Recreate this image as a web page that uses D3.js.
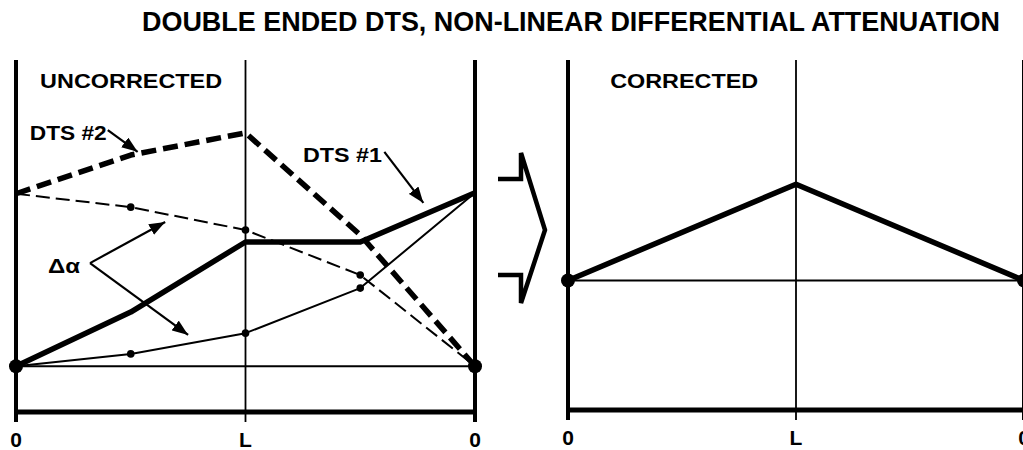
<!DOCTYPE html>
<html>
<head>
<meta charset="utf-8">
<script src="https://cdn.jsdelivr.net/npm/d3@7"></script>
<style>
  body { margin: 0; background: #fff; }
  text { font-family: Arial, "Liberation Sans", sans-serif; font-weight: bold; fill: #000; }
</style>
</head>
<body>
<div id="chart"></div>
<script>
// positions along the fibre, 0 .. L .. 0 (quarter steps)
var positions = [0, 1, 2, 3, 4];
var tickPos = [0, 2, 4];
var tickLabels = ["0", "L", "0"];

// uncorrected traces (left panel)
var dts2 = [62, 73, 79.3, 50.3, 13];
var dtsAlpha2 = [62, 58.2, 51.7, 38.9, 13];
var dts1 = [13, 28.4, 48.3, 48.3, 62.3];
var dtsAlpha1 = [13, 16.5, 22.4, 35.2, 62.3];
var baseLeft = 13;

// corrected trace (right panel)
var correctedPos = [0, 2, 4];
var corrected = [37, 64.5, 37];
var baseRight = 37;

var width = 1023, height = 450;

var svg = d3.select("#chart").append("svg")
  .attr("width", width)
  .attr("height", height);

svg.append("defs").append("marker")
  .attr("id", "arrow")
  .attr("viewBox", "0 0 16 12")
  .attr("refX", 16)
  .attr("refY", 6)
  .attr("markerWidth", 16)
  .attr("markerHeight", 12)
  .attr("markerUnits", "userSpaceOnUse")
  .attr("orient", "auto")
  .append("path")
  .attr("d", "M0,0 L16,6 L0,12 Z")
  .attr("fill", "#000");

// title
svg.append("text")
  .attr("x", 142)
  .attr("y", 31)
  .attr("font-size", 28)
  .attr("textLength", 858)
  .attr("lengthAdjust", "spacingAndGlyphs")
  .text("DOUBLE ENDED DTS, NON-LINEAR DIFFERENTIAL ATTENUATION");

function panel(x0, x1, yBottom, yTop, axisTop, base) {
  var x = d3.scaleLinear().domain([0, 4]).range([x0, x1]);
  var y = d3.scaleLinear().domain([0, 100]).range([yBottom, yTop]);
  var g = svg.append("g");

  // middle (L) line
  g.append("line")
    .attr("x1", x(2)).attr("x2", x(2))
    .attr("y1", axisTop).attr("y2", y(0) + 10)
    .attr("stroke", "#000").attr("stroke-width", 1.8);
  // baseline
  g.append("line")
    .attr("x1", x(0)).attr("x2", x(4))
    .attr("y1", y(base)).attr("y2", y(base))
    .attr("stroke", "#000").attr("stroke-width", 1.8);
  // side axes
  [0, 4].forEach(function(p) {
    g.append("line")
      .attr("x1", x(p)).attr("x2", x(p))
      .attr("y1", axisTop).attr("y2", y(0) + 10)
      .attr("stroke", "#000").attr("stroke-width", 4);
  });
  // bottom axis
  g.append("line")
    .attr("x1", x(0)).attr("x2", x(4))
    .attr("y1", y(0)).attr("y2", y(0))
    .attr("stroke", "#000").attr("stroke-width", 5);

  g.selectAll(".tl")
    .data(tickPos)
    .enter().append("text")
    .attr("x", function(d) { return x(d); })
    .attr("y", y(0) + 35)
    .attr("text-anchor", "middle")
    .attr("font-size", 21)
    .text(function(d, i) { return tickLabels[i]; });

  return { g: g, x: x, y: y };
}

var L = panel(16, 475, 412, 60, 60, baseLeft);
var R = panel(568, 1024, 410, 60, 60, baseRight);

function trace(p, xs, vals, w, dash) {
  var line = d3.line()
    .x(function(d, i) { return p.x(xs[i]); })
    .y(function(d) { return p.y(d); });
  p.g.append("path")
    .datum(vals)
    .attr("d", line)
    .attr("fill", "none")
    .attr("stroke", "#000")
    .attr("stroke-width", w)
    .attr("stroke-linejoin", "round")
    .attr("stroke-dasharray", dash || null);
}

function dots(p, vals, r) {
  p.g.selectAll(null)
    .data(vals.slice(1, 4))
    .enter().append("circle")
    .attr("cx", function(d, i) { return p.x(positions[i + 1]); })
    .attr("cy", function(d) { return p.y(d); })
    .attr("r", r);
}

trace(L, positions, dtsAlpha2, 2, "14,6");
trace(L, positions, dtsAlpha1, 2);
trace(L, positions, dts1, 5.5);
trace(L, positions, dts2, 5.5, "15,7");
dots(L, dtsAlpha2, 3.8);
dots(L, dtsAlpha1, 3.8);

[0, 4].forEach(function(p) {
  L.g.append("circle").attr("cx", L.x(p)).attr("cy", L.y(baseLeft)).attr("r", 7);
});

trace(R, correctedPos, corrected, 5.5);
[0, 4].forEach(function(p) {
  R.g.append("circle").attr("cx", R.x(p)).attr("cy", R.y(baseRight)).attr("r", 7);
});

// panel headings
L.g.append("text").attr("x", L.x(0.21)).attr("y", L.y(92))
  .attr("font-size", 21).attr("textLength", 182).attr("lengthAdjust", "spacingAndGlyphs")
  .text("UNCORRECTED");
R.g.append("text").attr("x", R.x(0.37)).attr("y", R.y(92))
  .attr("font-size", 21).attr("textLength", 148).attr("lengthAdjust", "spacingAndGlyphs")
  .text("CORRECTED");

// annotations (data units of the left panel)
var labels = [
  { t: "DTS #2", x: 0.12, y: 77.3, len: 77, fs: 21 },
  { t: "DTS #1", x: 2.50, y: 71.0, len: 79, fs: 21 },
  { t: "\u0394\u03b1", x: 0.28, y: 39.5, len: 32, fs: 20 }
];
var arrows = [
  [[0.80, 80.1], [1.06, 73.9]],
  [[3.21, 73.9], [3.55, 59.4]],
  [[0.645, 42.3], [1.30, 54.0]],
  [[0.645, 42.3], [1.50, 21.9]]
];

L.g.selectAll(".lab")
  .data(labels)
  .enter().append("text")
  .attr("x", function(d) { return L.x(d.x); })
  .attr("y", function(d) { return L.y(d.y); })
  .attr("font-size", function(d) { return d.fs; })
  .attr("textLength", function(d) { return d.len; })
  .attr("lengthAdjust", "spacingAndGlyphs")
  .text(function(d) { return d.t; });

L.g.selectAll(".arr")
  .data(arrows)
  .enter().append("line")
  .attr("x1", function(d) { return L.x(d[0][0]); })
  .attr("y1", function(d) { return L.y(d[0][1]); })
  .attr("x2", function(d) { return L.x(d[1][0]); })
  .attr("y2", function(d) { return L.y(d[1][1]); })
  .attr("stroke", "#000")
  .attr("stroke-width", 2.2)
  .attr("marker-end", "url(#arrow)");

// chevron between the panels
var cx = 521;
svg.append("path")
  .attr("d", "M" + (cx - 23) + ",179 L" + cx + ",179 L" + cx + ",153 L" + (cx + 24) + ",230 L" + cx + ",303 L" + cx + ",275 L" + (cx - 23) + ",275")
  .attr("fill", "none")
  .attr("stroke", "#000")
  .attr("stroke-width", 4.5)
  .attr("stroke-linejoin", "miter");
</script>
</body>
</html>
